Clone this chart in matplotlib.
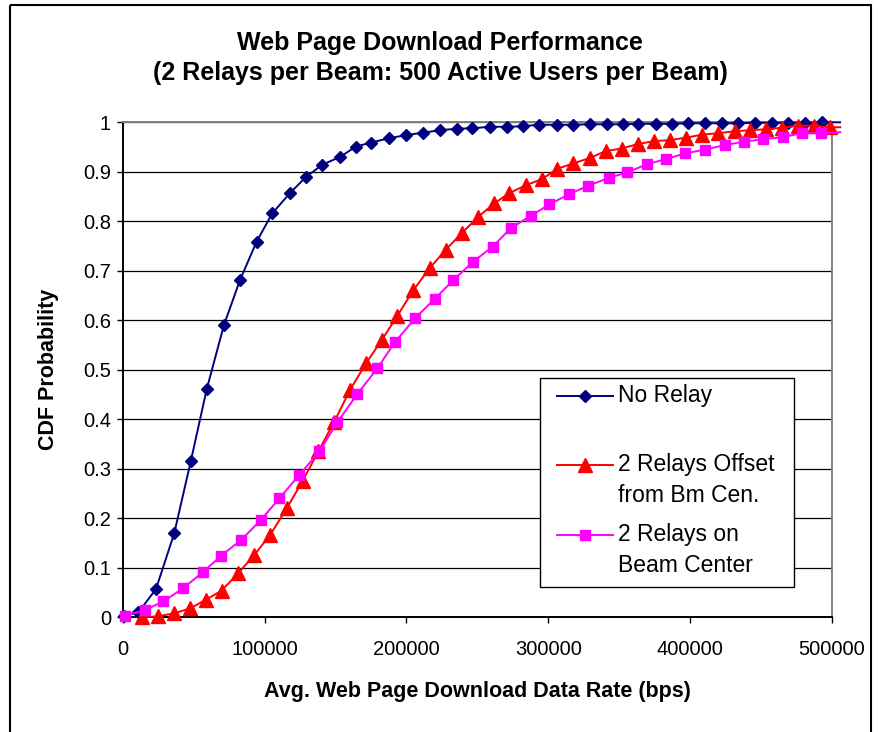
"""CDF of web page download rate for relay configurations."""

import matplotlib
matplotlib.use("Agg")
import matplotlib.pyplot as plt
from matplotlib.lines import Line2D
from matplotlib.patches import Rectangle
from matplotlib.ticker import FuncFormatter, MultipleLocator
import matplotlib.transforms as mtransforms

plt.rcParams["font.family"] = ["Liberation Sans", "DejaVu Sans"]

W, H = 879, 732

title = "Web Page Download Performance\n(2 Relays per Beam: 500 Active Users per Beam)"
x_label = "Avg. Web Page Download Data Rate (bps)"
y_label = "CDF Probability"

labels = ["No Relay", "2 Relays Offset\nfrom Bm Cen.", "2 Relays on\nBeam Center"]

# last point of each series lies just past 500000 (line only, no marker)
no_relay_x = [1000, 11000, 23400, 36300, 48000, 59200, 71300, 82600, 94400,
              105400, 117900, 129000, 140500, 153200, 164400, 175000, 188000,
              199700, 211500, 223700, 235500, 246600, 259000, 270700, 282000,
              293200, 306000, 317700, 329500, 341300, 352600, 363600, 375700,
              387100, 398900, 410600, 422400, 434100, 445900, 457600, 469400,
              481100, 492900, 505800]
no_relay_y = [0.003, 0.01, 0.057, 0.17, 0.316, 0.461, 0.59, 0.681, 0.759,
              0.816, 0.857, 0.889, 0.914, 0.93, 0.951, 0.959, 0.968, 0.974,
              0.979, 0.984, 0.987, 0.988, 0.991, 0.991, 0.992, 0.995, 0.995,
              0.995, 0.996, 0.996, 0.996, 0.997, 0.997, 0.997, 0.998, 0.998,
              0.998, 0.998, 0.999, 0.999, 0.999, 0.999, 1.0, 1.0]

offset_x = [13800, 24600, 36300, 47400, 58400, 69700, 81400, 92700, 103800,
            115600, 126900, 137900, 149100, 160200, 171500, 182600, 193600,
            204900, 216600, 227900, 239000, 250300, 261800, 272600, 284300,
            295400, 306400, 317700, 329400, 340700, 351800, 363100, 374600,
            385900, 397400, 408400, 419900, 431400, 442500, 453800, 464900,
            476200, 487300, 498800, 506000]
offset_y = [0.0, 0.002, 0.008, 0.018, 0.035, 0.054, 0.089, 0.126, 0.166,
            0.22, 0.276, 0.335, 0.395, 0.459, 0.513, 0.56, 0.609, 0.661,
            0.706, 0.743, 0.776, 0.808, 0.836, 0.857, 0.873, 0.885, 0.906,
            0.917, 0.928, 0.942, 0.947, 0.956, 0.962, 0.964, 0.969, 0.975,
            0.978, 0.982, 0.984, 0.986, 0.989, 0.993, 0.993, 0.99, 0.99]

center_x = [1600, 15700, 28600, 42700, 56800, 69200, 83400, 97500, 110300,
            124600, 138600, 151300, 165400, 179500, 192000, 206100, 220200,
            233100, 246900, 260900, 273600, 287700, 300800, 314900, 328300,
            343100, 355800, 369500, 383300, 396500, 410600, 424700, 438100,
            451700, 465400, 478800, 492400, 506000]
center_y = [0.003, 0.015, 0.032, 0.059, 0.092, 0.124, 0.156, 0.197, 0.24,
            0.288, 0.335, 0.394, 0.451, 0.503, 0.556, 0.604, 0.644, 0.681,
            0.718, 0.749, 0.786, 0.811, 0.834, 0.855, 0.872, 0.888, 0.899,
            0.915, 0.926, 0.937, 0.945, 0.954, 0.961, 0.966, 0.97, 0.978,
            0.978, 0.98]

colors = ["#000080", "#FF0000", "#FF00FF"]
markers = ["D", "^", "s"]
msizes = [6.6, 9.5, 7.5]


def main():
    fig = plt.figure(figsize=(W / 100, H / 100), dpi=100)
    # pixel coordinates measured from the top-left corner
    px = mtransforms.Affine2D().scale(1 / W, -1 / H).translate(0, 1) + fig.transFigure

    ax = fig.add_axes([122.8 / W, 1 - 617.3 / H, 709 / W, 495 / H])

    series = [(no_relay_x, no_relay_y), (offset_x, offset_y), (center_x, center_y)]
    for (xs, ys), c, m, ms in zip(series, colors, markers, msizes):
        ax.plot(xs, ys, color=c, lw=1.4, marker=m, ms=ms, mfc=c, mec=c,
                markevery=slice(0, len(xs) - 1), clip_on=False, zorder=3)

    ax.set_xlim(0, 500000)
    ax.set_ylim(0, 1)
    ax.xaxis.set_major_locator(MultipleLocator(100000))
    ax.yaxis.set_major_locator(MultipleLocator(0.1))
    ax.xaxis.set_major_formatter(FuncFormatter(lambda v, p: f"{v:.0f}"))
    ax.yaxis.set_major_formatter(FuncFormatter(lambda v, p: f"{v:g}"))
    ax.yaxis.grid(True, color="black", lw=0.9)
    ax.set_axisbelow(True)
    ax.tick_params(direction="out", length=4.5, width=1.0, labelsize=14.5, pad=4)
    ax.tick_params(axis="x", pad=12)

    for side in ["left", "bottom"]:
        ax.spines[side].set_color("black")
        ax.spines[side].set_linewidth(1.4)
    for side in ["top", "right"]:
        ax.spines[side].set_color("#808080")
        ax.spines[side].set_linewidth(1.4)

    ax.set_xlabel(x_label, fontsize=15.5, fontweight="bold", labelpad=16)
    ax.set_ylabel(y_label, fontsize=15.5, fontweight="bold", labelpad=17)

    fig.text(440 / W, 1 - 58 / H, title, ha="center", va="center",
             fontsize=18, fontweight="bold", linespacing=1.28)

    # hand-made legend to match the spreadsheet layout
    fig.add_artist(Rectangle((540, 378), 254, 209, transform=px, fill=True,
                             facecolor="white", edgecolor="black", lw=1.0, zorder=5))
    rows = [395.7, 465, 535]
    for lab, c, m, ms, y in zip(labels, colors, markers, msizes, rows):
        fig.add_artist(Line2D([557, 613], [y, y], transform=px, color=c, lw=1.4, zorder=6))
        fig.add_artist(Line2D([585], [y], transform=px, color=c, marker=m, ms=ms,
                              mfc=c, mec=c, zorder=7))
        for i, line in enumerate(lab.split("\n")):
            fig.text(618, y + i * 30, line, transform=px, fontsize=16.5,
                     ha="left", va="center", zorder=7)

    # outer chart border
    fig.add_artist(Rectangle((10, 5), 861, 740, transform=px, fill=False,
                             edgecolor="black", lw=1.5, clip_on=False))

    fig.savefig("out.png", dpi=100)


if __name__ == "__main__":
    main()
